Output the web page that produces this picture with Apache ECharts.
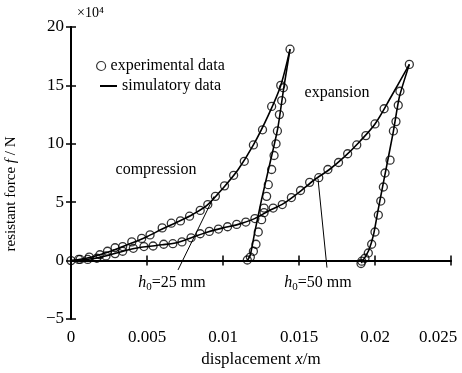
<!DOCTYPE html>
<html><head><meta charset="utf-8">
<script src="https://cdn.jsdelivr.net/npm/echarts@6/dist/echarts.min.js"></script>
<style>html,body{margin:0;padding:0;background:#fff}#c{width:462px;height:373px}</style>
</head><body><div id="c"></div>
<script>
// axis ticks
const xMin = 0, xMax = 0.025, xStep = 0.005;
const yMin = -5, yMax = 20, yStep = 5;

// h0 = 25 mm, loading (compression) – experimental circles
const exp25Load = [[0,0],[0.0006,0.1],[0.0012,0.3],[0.0019,0.5],[0.0024,0.8],[0.0029,1.1],[0.0034,1.2],[0.0040,1.6],[0.00465,1.9],[0.0052,2.2],[0.0060,2.8],[0.0066,3.2],[0.0072,3.4],[0.0078,3.8],[0.0085,4.3],[0.0090,4.8],[0.0095,5.5],[0.0101,6.4],[0.0107,7.3],[0.0114,8.5],[0.0120,9.9],[0.0126,11.2],[0.0132,13.2],[0.0138,15.0],[0.01441,18.1]];
// h0 = 25 mm, unloading – experimental circles
const exp25Unload = [[0.0116,0.05],[0.0118,0.3],[0.0120,0.8],[0.01217,1.4],[0.01232,2.45],[0.01254,3.5],[0.0127,4.5],[0.01287,5.5],[0.01298,6.5],[0.0132,7.8],[0.01336,9.0],[0.01349,10.0],[0.01358,11.1],[0.01371,12.5],[0.01386,13.7],[0.01397,14.8]];
// h0 = 50 mm, loading – experimental circles
const exp50Load = [[0.0005,0.1],[0.0011,0.1],[0.0017,0.2],[0.0023,0.4],[0.0029,0.6],[0.0034,0.8],[0.0041,1.05],[0.0048,1.2],[0.0054,1.25],[0.0061,1.4],[0.0067,1.45],[0.0073,1.6],[0.0079,1.95],[0.0085,2.3],[0.0091,2.5],[0.0097,2.7],[0.0103,2.9],[0.0109,3.1],[0.0115,3.3],[0.0121,3.6],[0.0127,4.1],[0.0133,4.5],[0.0139,4.8],[0.0145,5.4],[0.0151,6.0],[0.0157,6.7],[0.0163,7.1],[0.0169,7.8],[0.0176,8.4],[0.0182,9.15],[0.0188,9.9],[0.0194,10.7],[0.0200,11.7],[0.0206,13.0],[0.02226,16.8]];
// h0 = 50 mm, unloading – experimental circles
const exp50Unload = [[0.01908,-0.25],[0.01913,-0.05],[0.01934,0.2],[0.01956,0.65],[0.01978,1.4],[0.0200,2.45],[0.02022,3.9],[0.02038,5.1],[0.02055,6.3],[0.02066,7.5],[0.02099,8.6],[0.02121,11.1],[0.02138,11.9],[0.02153,13.3],[0.02164,14.5]];

// simulatory curves
const sim25Load = [[0,0],[0.001,0.2],[0.002,0.55],[0.003,1.0],[0.004,1.5],[0.005,2.05],[0.006,2.7],[0.007,3.3],[0.008,3.95],[0.009,4.8],[0.010,6.2],[0.011,7.8],[0.012,9.9],[0.013,12.5],[0.0138,15.0],[0.01441,18.1]];
const sim25Unload = [[0.0116,0],[0.0118,0.5],[0.0121,2.5],[0.01255,5.3],[0.0131,8.4],[0.0136,11.3],[0.0140,14.8],[0.01441,18.1]];
const sim50Load = [[0,0],[0.001,0.1],[0.002,0.3],[0.003,0.65],[0.004,1.0],[0.005,1.2],[0.006,1.35],[0.007,1.55],[0.008,2.0],[0.009,2.45],[0.010,2.8],[0.011,3.1],[0.012,3.55],[0.013,4.25],[0.014,4.9],[0.015,5.85],[0.016,6.9],[0.017,7.8],[0.018,8.9],[0.019,10.2],[0.020,11.7],[0.021,13.9],[0.02226,16.8]];
const sim50Unload = [[0.0191,-0.2],[0.01935,0.3],[0.0196,0.9],[0.0199,2.2],[0.0202,4.3],[0.0206,7.0],[0.0212,11.0],[0.0216,14.0],[0.02226,16.8]];

// leader lines for the h0 labels (data coords)
const leader25 = [[0.00704,-0.8],[0.00941,5.5]];
const leader50 = [[0.01684,-0.6],[0.01625,7.0]];

const FONT = 'Liberation Serif';
const chart = echarts.init(document.getElementById('c'));

function expSeries(data){
  return {type:'scatter', name:'experimental data', data, symbol:'circle', symbolSize:8,
    itemStyle:{color:'rgba(0,0,0,0)', borderColor:'#000', borderWidth:1.3}, z:3, silent:true};
}
function simSeries(data, smooth, extra){
  return Object.assign({type:'line', name:'simulatory data', data, symbol:'none', smooth:smooth,
    lineStyle:{color:'#000', width:1.6}, itemStyle:{color:'#000'}, z:2, silent:true}, extra||{});
}
const leaderML = {silent:true, symbol:['none','none'], label:{show:false},
  lineStyle:{color:'#000', width:1, type:'solid'},
  data:[[{coord:leader25[0]},{coord:leader25[1]}],[{coord:leader50[0]},{coord:leader50[1]}]]};

const axisCommonX = {type:'value', min:xMin, max:xMax, interval:xStep, splitLine:{show:false}};
const axisCommonY = {type:'value', min:yMin, max:yMax, interval:yStep, splitLine:{show:false}};

const rich = {i:{fontStyle:'italic', fontFamily:FONT, fontSize:17, color:'#000'}};
const richY = {i:{fontStyle:'italic', fontFamily:FONT, fontSize:15, color:'#000'}};
const subRich = {i:{fontFamily:FONT, fontStyle:'italic', fontSize:16, fill:'#000', lineHeight:18, verticalAlign:'top'},
            s:{fontFamily:FONT, fontSize:11, fill:'#000', lineHeight:18, verticalAlign:'bottom', padding:[8,0,0,0]},
            n:{fontFamily:FONT, fontSize:16, fill:'#000', lineHeight:18, verticalAlign:'top'}};

chart.setOption({
  animation:false,
  backgroundColor:'#fff',
  grid:{left:71, right:11, top:27, bottom:54, outerBoundsMode:'none', containLabel:false},
  legend:[
    {data:[{name:'experimental data', icon:'circle', itemStyle:{color:'rgba(0,0,0,0)', borderColor:'#000', borderWidth:1.2}}],
     left:91, top:53, itemWidth:9, itemHeight:9, itemGap:5,
     textStyle:{fontFamily:FONT, fontSize:16, color:'#000'}, selectedMode:false},
    {data:[{name:'simulatory data'}], left:94, top:73, itemWidth:17, itemHeight:2,
     textStyle:{fontFamily:FONT, fontSize:16, color:'#000'}, selectedMode:false}
  ],
  xAxis:[
    Object.assign({}, axisCommonX, {position:'bottom',
      name:'displacement {i|x}/m', nameLocation:'middle', nameGap:32,
      nameTextStyle:{fontFamily:FONT, fontSize:17, color:'#000', rich},
      axisLine:{lineStyle:{color:'#000', width:2}},
      axisTick:{inside:true, length:5, lineStyle:{color:'#000', width:1.5}},
      axisLabel:{fontFamily:FONT, fontSize:17, color:'#000', margin:10, showMinLabel:true, showMaxLabel:true, hideOverlap:false,
        formatter:function(v){ const s = String(+v.toFixed(3)); return Math.abs(v-xMax)<1e-9 ? '{last|'+s+'}' : s; },
        rich:{last:{fontFamily:FONT, fontSize:17, color:'#000', padding:[0,26,0,0]}}}}),
    Object.assign({}, axisCommonX, {position:'top',
      axisLine:{lineStyle:{color:'#000', width:1.5}},
      axisTick:{inside:true, length:5, lineStyle:{color:'#000', width:1.5}},
      axisLabel:{show:false}})
  ],
  yAxis:[
    Object.assign({}, axisCommonY, {position:'left',
      name:'resistant force {i|f} / N', nameLocation:'middle', nameGap:52, nameRotate:90,
      nameTextStyle:{fontFamily:FONT, fontSize:15, color:'#000', rich:richY, padding:[0,42,0,0]},
      axisLine:{lineStyle:{color:'#000', width:2}},
      axisTick:{inside:true, length:5, lineStyle:{color:'#000', width:1.5}},
      axisLabel:{fontFamily:FONT, fontSize:17, color:'#000', margin:7, showMinLabel:true, showMaxLabel:true,
        formatter:function(v){ return String(v).replace('-', '\u2212'); }}}),
    Object.assign({}, axisCommonY, {position:'right',
      axisLine:{lineStyle:{color:'#000', width:1.5}},
      axisTick:{inside:true, length:5, lineStyle:{color:'#000', width:1.5}},
      axisLabel:{show:false}})
  ],
  graphic:[
    {type:'text', x:77, y:6, style:{text:'\u00d710\u2074', font:'14px "Liberation Serif"', fill:'#000'}},
    {type:'text', x:156, y:170, style:{text:'compression', font:'16px "Liberation Serif"', fill:'#000', align:'center', verticalAlign:'middle'}},
    {type:'text', x:337, y:93, style:{text:'expansion', font:'16px "Liberation Serif"', fill:'#000', align:'center', verticalAlign:'middle'}},
    {type:'text', x:172, y:284, style:{text:'{i|h}{s|0}{n|=25 mm}', align:'center', verticalAlign:'middle', rich:subRich}},
    {type:'text', x:318, y:284, style:{text:'{i|h}{s|0}{n|=50 mm}', align:'center', verticalAlign:'middle', rich:subRich}}
  ],
  series:[
    simSeries(sim25Load, 0.3, {markLine:leaderML}),
    simSeries(sim25Unload, 0.2),
    simSeries(sim50Load, 0.3),
    simSeries(sim50Unload, 0.2),
    expSeries(exp25Load),
    expSeries(exp25Unload),
    expSeries(exp50Load),
    expSeries(exp50Unload)
  ]
});
</script>
</body></html>
